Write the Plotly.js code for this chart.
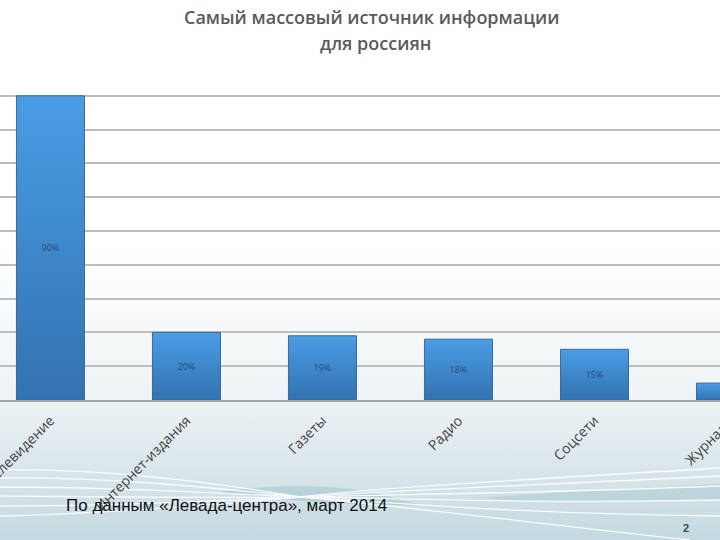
<!DOCTYPE html>
<html>
<head>
<meta charset="utf-8">
<script src="https://cdn.plot.ly/plotly-3.0.1.min.js"></script>
<style>
  html, body { margin: 0; padding: 0; width: 720px; height: 540px; overflow: hidden; }
  #bg { position: absolute; left: 0; top: 0; width: 720px; height: 540px; z-index: 0; }
  #chart { position: absolute; left: 0; top: 0; width: 800px; height: 540px; z-index: 1; }
</style>
</head>
<body>
<svg id="bg" width="720" height="540" xmlns="http://www.w3.org/2000/svg">
  <defs>
    <linearGradient id="pageGrad" x1="0" y1="0" x2="0" y2="1">
      <stop offset="0" stop-color="#ffffff"/>
      <stop offset="0.45" stop-color="#ffffff"/>
      <stop offset="0.74" stop-color="#eef3f5"/>
      <stop offset="1" stop-color="#c3d9e0"/>
    </linearGradient>
  </defs>
  <rect x="0" y="0" width="720" height="540" fill="url(#pageGrad)"/>
  <path d="M220,492 C260,486 300,484 340,488 C380,492 400,500 420,505 C360,506 300,503 220,492 Z" fill="#a9c8d0" opacity="0.6"/>
  <path d="M480,498 C560,492 640,488 720,484 L720,500 C640,502 560,504 480,498 Z" fill="#a9c8d0" opacity="0.5"/>
  <g fill="none" stroke="#ffffff" stroke-width="1.3" opacity="0.9">
    <path d="M0,470 C100,468 200,480 300,497 C400,486 520,480 720,468"/>
    <path d="M0,478 C100,477 200,486 300,497 C400,490 520,486 720,476"/>
    <path d="M0,487 C100,487 200,492 300,497 C400,494 520,494 720,486"/>
    <path d="M0,496 C100,497 200,498 300,497 C400,498 520,504 720,500"/>
    <path d="M0,506 C100,506 200,502 300,497 C400,503 520,514 720,516"/>
    <path d="M0,516 C100,514 200,506 300,497 C420,508 540,524 690,540"/>
  </g>
</svg>
<div id="chart"></div>
<script>
const categories = ["Телевидение", "Интернет-издания", "Газеты", "Радио", "Соцсети", "Журналы"];
const values = [90, 20, 19, 18, 15, 5];
const titleLines = ["Самый массовый источник информации", "для россиян"];
const sourceNote = "По данным «Левада-центра», март 2014";
const pageNumber = "2";

// figure is 800 px wide (the window shows the left 720 px); plot rows 62..400
const FIG_W = 800;
const pxToPaperX = px => px / FIG_W;
const pxToPaperY = px => (400 - px) / 338;

const trace = {
  type: "bar",
  x: categories,
  y: values,
  text: values.map(v => v + "%"),
  textposition: "inside",
  insidetextanchor: "middle",
  textangle: 0,
  textfont: { family: "Open Sans, sans-serif", size: 9, color: "#2b4c72" },
  marker: { color: "#3f87cf", line: { color: "#3a6a9c", width: 1 } },
  hoverinfo: "skip"
};

const titleFont = { family: "Open Sans, sans-serif", size: 18, color: "#5a5a5a", weight: 600 };

const layout = {
  width: FIG_W, height: 540,
  margin: { l: 0, r: 0, t: 62, b: 140 },
  paper_bgcolor: "rgba(0,0,0,0)",
  plot_bgcolor: "rgba(0,0,0,0)",
  bargap: 0.5,
  showlegend: false,
  xaxis: {
    type: "category",
    range: [-0.371, (FIG_W - 50.5) / 136],
    tickangle: -45,
    tickfont: { family: "Open Sans, sans-serif", size: 14, color: "#444444" },
    ticklabelstandoff: 5,
    showgrid: false,
    showline: true, linecolor: "#a6a6a6", linewidth: 2,
    ticks: "", fixedrange: true
  },
  yaxis: {
    range: [0, 100],
    dtick: 10,
    showgrid: true, gridcolor: "#bdbdbd", gridwidth: 2,
    zeroline: false,
    showticklabels: false,
    showline: false, fixedrange: true
  },
  annotations: [
    { text: titleLines[0], xref: "paper", yref: "paper", x: pxToPaperX(371), y: pxToPaperY(17),
      xanchor: "center", yanchor: "middle", showarrow: false, font: titleFont },
    { text: titleLines[1], xref: "paper", yref: "paper", x: pxToPaperX(375), y: pxToPaperY(43),
      xanchor: "center", yanchor: "middle", showarrow: false, font: titleFont },
    { text: sourceNote, xref: "paper", yref: "paper", x: pxToPaperX(64), y: pxToPaperY(505),
      xanchor: "left", yanchor: "middle", showarrow: false,
      font: { family: "Liberation Sans, Arial, sans-serif", size: 17, color: "#111111" } },
    { text: "<b>" + pageNumber + "</b>", xref: "paper", yref: "paper", x: pxToPaperX(686), y: pxToPaperY(528),
      xanchor: "center", yanchor: "middle", showarrow: false,
      font: { family: "Liberation Sans, Arial, sans-serif", size: 11, color: "#3b4a5a" } }
  ]
};

Plotly.newPlot("chart", [trace], layout, { displayModeBar: false, staticPlot: true }).then(gd => {
  const svg = gd.querySelector("svg.main-svg");
  const ns = "http://www.w3.org/2000/svg";
  let defs = svg.querySelector("defs");
  if (!defs) { defs = document.createElementNS(ns, "defs"); svg.insertBefore(defs, svg.firstChild); }
  const g = document.createElementNS(ns, "linearGradient");
  g.setAttribute("id", "barGrad");
  g.setAttribute("x1", "0"); g.setAttribute("y1", "0");
  g.setAttribute("x2", "0"); g.setAttribute("y2", "1");
  [["0", "#4a9de5"], ["1", "#3272b0"]].forEach(([o, c]) => {
    const s = document.createElementNS(ns, "stop");
    s.setAttribute("offset", o); s.setAttribute("stop-color", c);
    g.appendChild(s);
  });
  defs.appendChild(g);
  gd.querySelectorAll(".bars .point path").forEach(p => { p.style.fill = "url(#barGrad)"; });
});
</script>
</body>
</html>
